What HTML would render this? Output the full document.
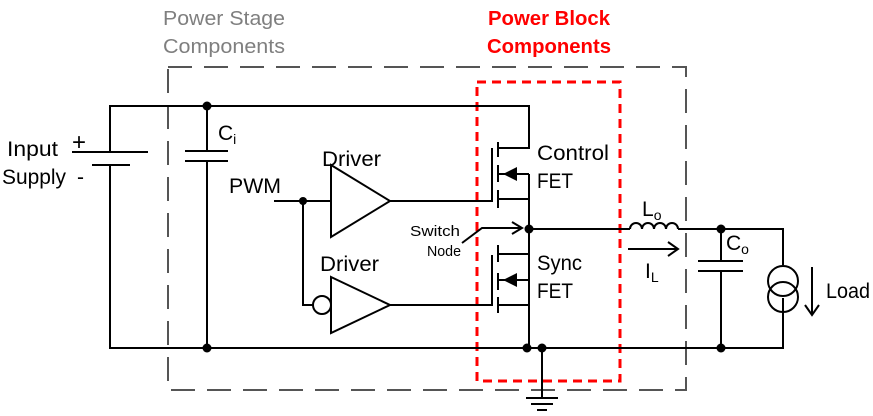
<!DOCTYPE html>
<html><head><style>
body{margin:0;background:#fff}
svg{display:block}
text{font-family:"Liberation Sans",sans-serif}
</style></head><body>
<svg width="873" height="416" viewBox="0 0 873 416" xmlns="http://www.w3.org/2000/svg">
<g font-size="20" fill="#7f7f7f" text-anchor="middle">
<text x="224" y="25" textLength="122" lengthAdjust="spacingAndGlyphs">Power Stage</text>
<text x="224" y="53" textLength="122" lengthAdjust="spacingAndGlyphs">Components</text>
</g>
<g font-size="20" fill="#ff0000" font-weight="bold" text-anchor="middle">
<text x="549" y="25" textLength="122" lengthAdjust="spacingAndGlyphs">Power Block</text>
<text x="549" y="53" textLength="124" lengthAdjust="spacingAndGlyphs">Components</text>
</g>
<rect x="168" y="67" width="518" height="323" fill="none" stroke="#555" stroke-width="2" stroke-dasharray="24,12"/>
<rect x="477" y="82" width="143" height="299" fill="none" stroke="#ff0000" stroke-width="3" stroke-dasharray="9,6"/>
<g stroke="#000" stroke-width="2" fill="none">
<path d="M110 152 V106 H529 V148 H498"/>
<path d="M110 165 V348 H783 V298"/>
<path d="M72 152 H148 M92 165 H130"/>
<path d="M207 106 V151 M207 161 V348 M185 151 H228 M185 161 H228"/>
<path d="M274 201 H330 M303 201 V305 H313"/>
<circle cx="322" cy="305" r="9"/>
<path d="M331 165 L390 201 L331 237 Z"/>
<path d="M331 277 L390 305 L331 333 Z"/>
<path d="M390 201 H492 V148 M390 305 H492 V255"/>
<path d="M498 142 V157 M498 165 V182 M498 190 V208"/>
<path d="M498 174 H529 M498 199 H529 M529 174 V348"/>
<path d="M498 245 V262 M498 273 V290 M498 297 V313"/>
<path d="M498 254 H529 M498 280 H529 M498 305 H529"/>
<path d="M529 229 H630 M678 229 H783 V265"/>
<path d="M630 229 a6 6 0 0 1 12 0 a6 6 0 0 1 12 0 a6 6 0 0 1 12 0 a6 6 0 0 1 12 0"/>
<path d="M721 229 V261 M721 271 V348 M698 261 H743 M698 271 H743"/>
<circle cx="783" cy="281" r="15"/>
<circle cx="783" cy="297" r="15"/>
<path d="M542 348 V398 M526 398 H558 M531 404 H553 M537 410 H547"/>
<path d="M462 243 L482 228 H522 M512 222 L522 228 L512 234"/>
<path d="M628 249 H678 M668 242 L678 249 L668 256"/>
<path d="M812 267 V315 M805 305 L812 315 L819 305"/>
</g>
<path d="M503 174 L517 167 V181 Z M503 280 L517 273 V287 Z" fill="#000"/>
<g fill="#000">
<circle cx="207" cy="106" r="4.5"/><circle cx="207" cy="348" r="4.5"/>
<circle cx="303" cy="201" r="4"/><circle cx="529" cy="229" r="4.5"/>
<circle cx="527" cy="348" r="4.5"/><circle cx="542" cy="348" r="4.5"/>
<circle cx="721" cy="229" r="4.5"/><circle cx="721" cy="348" r="4.5"/>
</g>
<g font-size="21" fill="#000">
<text x="7" y="156" textLength="51" lengthAdjust="spacingAndGlyphs">Input</text>
<text x="2" y="184" textLength="64" lengthAdjust="spacingAndGlyphs">Supply</text>
<text x="72" y="150" font-size="24">+</text>
<text x="77" y="184">-</text>
<text x="218" y="140">C<tspan font-size="14" dy="4">i</tspan></text>
<text x="229" y="193" textLength="52" lengthAdjust="spacingAndGlyphs">PWM</text>
<text x="322" y="166" textLength="59" lengthAdjust="spacingAndGlyphs">Driver</text>
<text x="320" y="271" textLength="59" lengthAdjust="spacingAndGlyphs">Driver</text>
<text x="537" y="160" textLength="72" lengthAdjust="spacingAndGlyphs">Control</text>
<text x="537" y="188" textLength="36" lengthAdjust="spacingAndGlyphs">FET</text>
<text x="537" y="270" textLength="45" lengthAdjust="spacingAndGlyphs">Sync</text>
<text x="537" y="298" textLength="36" lengthAdjust="spacingAndGlyphs">FET</text>
<text x="642" y="216">L<tspan font-size="14" dy="4">o</tspan></text>
<text x="645" y="278">I<tspan font-size="14" dy="4">L</tspan></text>
<text x="726" y="250">C<tspan font-size="14" dy="4">o</tspan></text>
<text x="826" y="298" textLength="44" lengthAdjust="spacingAndGlyphs">Load</text>
</g>
<g font-size="15" fill="#000">
<text x="410" y="236" textLength="50" lengthAdjust="spacingAndGlyphs">Switch</text>
<text x="427" y="256" textLength="34" lengthAdjust="spacingAndGlyphs">Node</text>
</g>
</svg>
</body></html>
